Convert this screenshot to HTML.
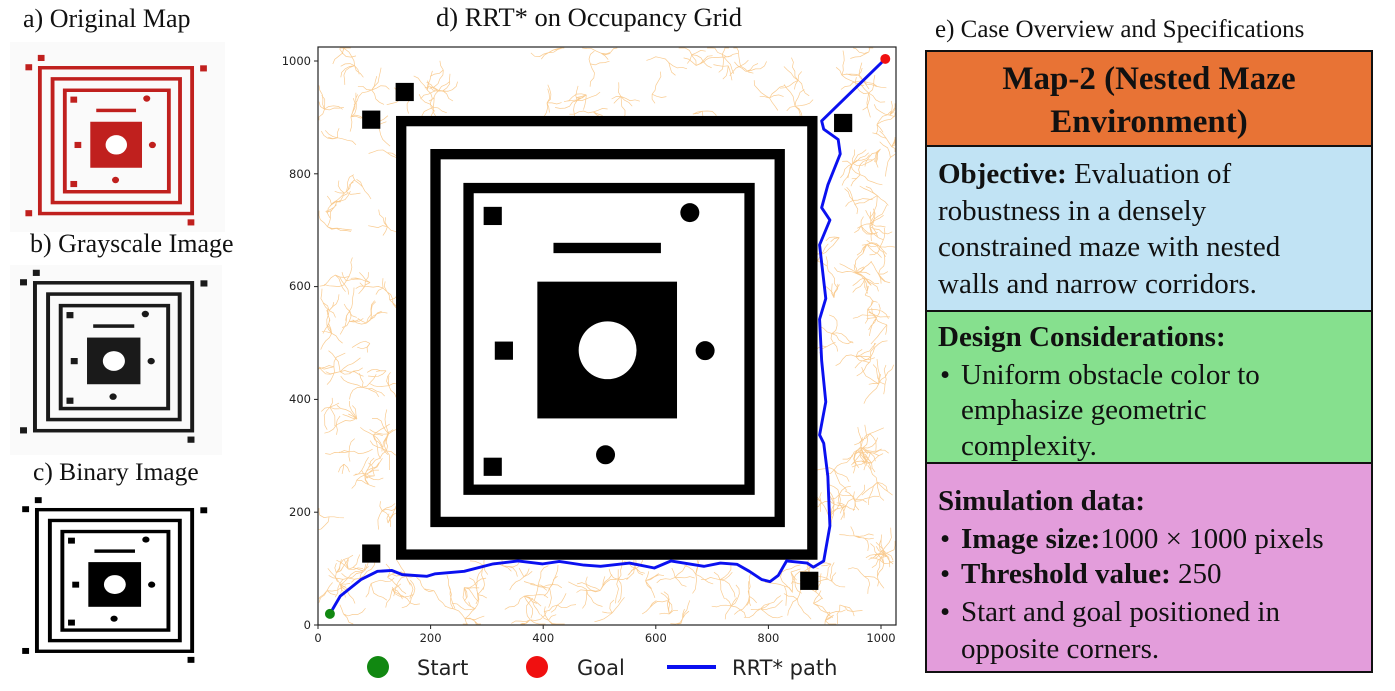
<!DOCTYPE html>
<html><head><meta charset="utf-8">
<style>
html,body{margin:0;padding:0;background:#fff;}
body{width:1395px;height:691px;position:relative;overflow:hidden;font-family:"Liberation Serif",serif;}
.t{position:absolute;font-family:"Liberation Serif",serif;color:#111;white-space:nowrap;}
.box{position:absolute;left:925px;width:448px;border:2px solid #111;box-sizing:border-box;}
.ln{position:absolute;font-family:"Liberation Serif",serif;font-size:29px;color:#111;white-space:nowrap;}
</style></head><body>

<svg width="1395" height="691" style="position:absolute;left:0;top:0">
<defs>
<g id="obs">
  <rect x="317.5" y="220.5" width="995" height="1049" fill="none" stroke="currentColor" stroke-width="25"/>
  <rect x="400.5" y="300.5" width="833" height="890" fill="none" stroke="currentColor" stroke-width="25"/>
  <rect x="480.5" y="382.5" width="680" height="730" fill="none" stroke="currentColor" stroke-width="25"/>
  <rect x="647" y="609" width="338" height="331" fill="currentColor"/>
  <circle cx="817" cy="775" r="70" fill="#fff"/>
  <rect x="686" y="515" width="260" height="25" fill="currentColor"/>
  <rect x="517" y="428" width="44" height="44" fill="currentColor"/>
  <rect x="544" y="754" width="44" height="44" fill="currentColor"/>
  <rect x="517" y="1035" width="44" height="44" fill="currentColor"/>
  <rect x="223" y="195" width="44" height="44" fill="currentColor"/>
  <rect x="304" y="128" width="44" height="44" fill="currentColor"/>
  <rect x="223" y="1245" width="44" height="44" fill="currentColor"/>
  <rect x="1283" y="1311" width="44" height="44" fill="currentColor"/>
  <rect x="1365" y="203" width="44" height="44" fill="currentColor"/>
  <circle cx="1016" cy="442" r="23" fill="currentColor"/>
  <circle cx="1053" cy="776" r="23" fill="currentColor"/>
  <circle cx="812" cy="1028" r="23" fill="currentColor"/>
</g>
</defs>

<rect x="10" y="42" width="215" height="190" fill="#fafafa"/>
<g transform="translate(-8.7,37.1) scale(0.153,0.139)" style="color:#c0201e"><use href="#obs"/></g>
<rect x="10" y="265" width="212" height="190" fill="#fafafa"/>
<g transform="translate(-15.2,251.7) scale(0.158,0.141)" style="color:#1a1a1a"><use href="#obs"/></g>
<g transform="translate(-12.6,479.9) scale(0.156,0.135)" style="color:#000"><use href="#obs"/></g>

<g id="tree" stroke="#f8c27c" stroke-width="0.7" fill="none" opacity="0.85"></g>
<rect x="396" y="116" width="421" height="444" fill="#fff"/>
<g transform="translate(270,30) scale(0.41322)" style="color:#000">
  <use href="#obs"/>
  <polyline fill="none" stroke="#0a10f0" stroke-width="7" stroke-linejoin="round" points="145,1413 170,1370 220,1330 260,1310 295,1308 320,1318 380,1322 400,1316 470,1310 540,1292 600,1285 660,1292 700,1286 760,1295 800,1298 870,1290 930,1302 970,1285 1050,1298 1090,1290 1130,1293 1160,1310 1190,1330 1210,1335 1230,1320 1250,1285 1300,1290 1315,1300 1340,1285 1355,1200 1352,1130 1350,1080 1340,1000 1330,980 1345,900 1335,800 1330,700 1345,650 1330,520 1355,460 1335,430 1350,375 1380,300 1375,265 1340,240 1335,220 1489,70"/>
  <circle cx="145" cy="1413" r="12" fill="#118811"/>
  <circle cx="1489" cy="70" r="12" fill="#f01010"/>
</g>
<rect x="318" y="47" width="578" height="578" fill="none" stroke="#222" stroke-width="1.2"/>
<g font-family="DejaVu Sans, sans-serif" font-size="11.5" fill="#222">
  <g stroke="#222" stroke-width="1">
    <line x1="318" y1="625" x2="318" y2="629"/><line x1="430.6" y1="625" x2="430.6" y2="629"/><line x1="543.2" y1="625" x2="543.2" y2="629"/><line x1="655.8" y1="625" x2="655.8" y2="629"/><line x1="768.4" y1="625" x2="768.4" y2="629"/><line x1="881" y1="625" x2="881" y2="629"/>
    <line x1="314" y1="625" x2="318" y2="625"/><line x1="314" y1="512.2" x2="318" y2="512.2"/><line x1="314" y1="399.4" x2="318" y2="399.4"/><line x1="314" y1="286.6" x2="318" y2="286.6"/><line x1="314" y1="173.8" x2="318" y2="173.8"/><line x1="314" y1="61" x2="318" y2="61"/>
  </g>
  <text x="318" y="642" text-anchor="middle">0</text>
  <text x="430.6" y="642" text-anchor="middle">200</text>
  <text x="543.2" y="642" text-anchor="middle">400</text>
  <text x="655.8" y="642" text-anchor="middle">600</text>
  <text x="768.4" y="642" text-anchor="middle">800</text>
  <text x="881" y="642" text-anchor="middle">1000</text>
  <text x="311" y="629" text-anchor="end">0</text>
  <text x="311" y="516" text-anchor="end">200</text>
  <text x="311" y="403" text-anchor="end">400</text>
  <text x="311" y="290" text-anchor="end">600</text>
  <text x="311" y="178" text-anchor="end">800</text>
  <text x="311" y="65" text-anchor="end">1000</text>
</g>
<circle cx="378" cy="667" r="11" fill="#118811"/>
<circle cx="537" cy="667" r="11" fill="#f01010"/>
<line x1="667" y1="667" x2="716" y2="667" stroke="#0a10f0" stroke-width="4"/>
<g font-family="DejaVu Sans, sans-serif" font-size="21" fill="#222">
  <text x="417" y="675">Start</text>
  <text x="577" y="675">Goal</text>
  <text x="732" y="675">RRT* path</text>
</g>
</svg>

<div class="t" style="left:23px;top:4px;font-size:26px">a) Original Map</div>
<div class="t" style="left:30px;top:229px;font-size:26px">b) Grayscale Image</div>
<div class="t" style="left:33px;top:457px;font-size:25.5px">c) Binary Image</div>
<div class="t" style="left:436px;top:2px;font-size:26.5px">d) RRT* on Occupancy Grid</div>
<div class="t" style="left:935px;top:16px;font-size:25px">e) Case Overview and Specifications</div>

<div class="box" style="top:50px;height:97px;background:#e87335;"></div>
<div class="box" style="top:145px;height:167px;background:#c1e3f4;"></div>
<div class="box" style="top:310px;height:154px;background:#86e08e;"></div>
<div class="box" style="top:462px;height:211px;background:#e39ddb;"></div>

<div class="ln" style="left:925px;width:448px;text-align:center;top:58px;font-size:33px;font-weight:bold;line-height:43px;">Map-2 (Nested Maze<br>Environment)</div>

<div class="ln" style="left:938px;top:158px"><b>Objective:</b> Evaluation of</div>
<div class="ln" style="left:938px;top:195px">robustness in a densely</div>
<div class="ln" style="left:938px;top:231px">constrained maze with nested</div>
<div class="ln" style="left:938px;top:268px">walls and narrow corridors.</div>

<div class="ln" style="left:938px;top:321px"><b>Design Considerations:</b></div>
<div class="ln" style="left:940px;top:359px">•</div><div class="ln" style="left:961px;top:359px">Uniform obstacle color to</div>
<div class="ln" style="left:961px;top:394px">emphasize geometric</div>
<div class="ln" style="left:961px;top:430px">complexity.</div>

<div class="ln" style="left:938px;top:485px"><b>Simulation data:</b></div>
<div class="ln" style="left:940px;top:523px">•</div><div class="ln" style="left:961px;top:523px"><b>Image size:</b>1000 × 1000 pixels</div>
<div class="ln" style="left:940px;top:558px">•</div><div class="ln" style="left:961px;top:558px"><b>Threshold value:</b> 250</div>
<div class="ln" style="left:940px;top:596px">•</div><div class="ln" style="left:961px;top:596px">Start and goal positioned in</div>
<div class="ln" style="left:961px;top:633px">opposite corners.</div>

<script>
(function(){
  var s=12345;function r(){s=(s*1103515245+12345)%2147483648;return s/2147483648;}
  var g=document.getElementById('tree');var d='';
  for(var i=0;i<420;i++){
    var x=322+r()*570,y=51+r()*570;
    if(x>392&&x<821&&y>112&&y<564)continue;
    var nb=3+Math.floor(r()*4);
    for(var b=0;b<nb;b++){
      var a=r()*6.283,px=x,py=y;d+='M'+px.toFixed(1)+' '+py.toFixed(1);
      var ns=2+Math.floor(r()*4);
      for(var k=0;k<ns;k++){a+=(r()-0.5)*1.4;px+=Math.cos(a)*5;py+=Math.sin(a)*5;
        px=Math.max(319,Math.min(895,px));py=Math.max(48,Math.min(624,py));
        d+='L'+px.toFixed(1)+' '+py.toFixed(1);}
    }
  }
  var p=document.createElementNS('http://www.w3.org/2000/svg','path');p.setAttribute('d',d);g.appendChild(p);
})();
</script>
</body></html>
